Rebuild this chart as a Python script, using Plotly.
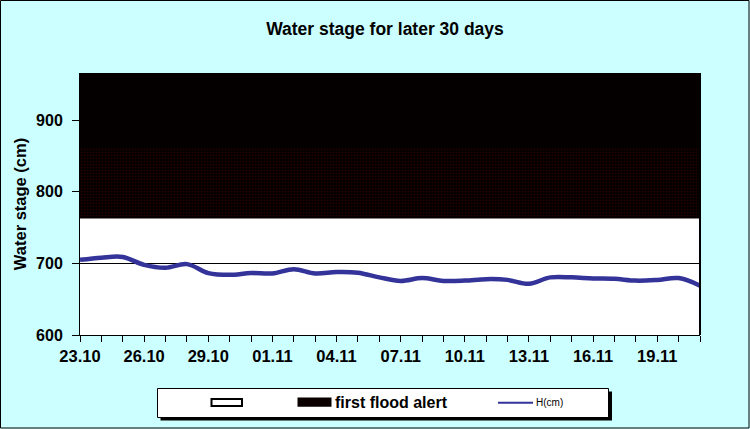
import plotly.graph_objects as go

# ---------------- data ----------------
dates = ['23.10', '24.10', '25.10', '26.10', '27.10', '28.10', '29.10', '30.10',
         '31.10', '01.11', '02.11', '03.11', '04.11', '05.11', '06.11', '07.11',
         '08.11', '09.11', '10.11', '11.11', '12.11', '13.11', '14.11', '15.11',
         '16.11', '17.11', '18.11', '19.11', '20.11', '21.11']
h_cm = [705, 708, 709, 698, 694, 699, 686.5, 684, 686.5, 686,
        692, 686, 688, 687, 680.5, 675.5, 679.5, 675.5, 676, 678,
        677, 671.5, 680.5, 680.5, 679, 678.5, 676, 677, 679.5, 669]
normal_top = 762.8      # upper edge of white (normal) zone
alert_top = 862.6       # upper edge of "first flood alert" zone
axis_top = 966          # top of the chart
y_ticks = [600, 700, 800, 900]
label_every = 3
legend_names = ['', 'first flood alert', 'H(cm)']

x = list(range(len(dates)))
x_ends = [x[0], x[-1]]

FONT = "Liberation Sans, Arial, sans-serif"
LINE_COLOR = '#333399'
ALERT_BG = '#0a0000'

fig = go.Figure()

fig.add_trace(go.Scatter(
    x=x_ends, y=[normal_top, normal_top], mode='lines', name=legend_names[0] or 'normal',
    fill='tozeroy', fillcolor='rgba(255,255,255,0)',
    line=dict(color='rgba(0,0,0,0)', width=0), hoverinfo='skip', showlegend=False))

fig.add_trace(go.Scatter(
    x=x_ends, y=[alert_top, alert_top], mode='lines', name=legend_names[1],
    fill='tonexty', fillcolor=ALERT_BG,
    fillpattern=dict(shape='.', bgcolor='#000000', fgcolor='#420000', size=3, solidity=0.4),
    line=dict(color='black', width=0), hoverinfo='skip', showlegend=False))

fig.add_trace(go.Scatter(
    x=x_ends, y=[axis_top, axis_top], mode='lines', showlegend=False, name='top',
    fill='tonexty', fillcolor='#050000',
    line=dict(color='black', width=0), hoverinfo='skip'))

fig.add_trace(go.Scatter(
    x=x, y=h_cm, mode='lines', name=legend_names[2], showlegend=False,
    line=dict(color=LINE_COLOR, width=4.5, shape='spline', smoothing=1.0)))

L, R, T, B = 80, 50, 73, 94
W, H = 750, 429
pw, ph = W - L - R, H - T - B


def xp(px):
    return (px - L) / pw


def yp(py):
    return (H - B - py) / ph


shapes = [
    # figure border
    dict(type='rect', xref='paper', yref='paper',
         x0=xp(0.5), x1=xp(W - 1), y0=yp(H - 1), y1=yp(0.5),
         line=dict(color='black', width=1), layer='above'),
    # right border of the plot area
    dict(type='line', xref='paper', yref='paper', x0=1, x1=1, y0=0, y1=1,
         line=dict(color='black', width=2), layer='above'),
    # legend shadow
    dict(type='rect', xref='paper', yref='paper',
         x0=xp(160.5), x1=xp(612), y0=yp(420.5), y1=yp(391.5),
         fillcolor='black', line=dict(width=0), layer='above'),
    # legend box
    dict(type='rect', xref='paper', yref='paper',
         x0=xp(157.5), x1=xp(608.5), y0=yp(417.5), y1=yp(388.5),
         fillcolor='white', line=dict(color='black', width=1), layer='above'),
    # legend swatch: normal zone (white)
    dict(type='rect', xref='paper', yref='paper',
         x0=xp(211.5), x1=xp(242), y0=yp(406), y1=yp(399),
         fillcolor='white', line=dict(color='black', width=2), layer='above'),
    # legend swatch: first flood alert
    dict(type='rect', xref='paper', yref='paper',
         x0=xp(297.5), x1=xp(331.5), y0=yp(406.7), y1=yp(397.5),
         fillcolor=ALERT_BG, line=dict(width=0), layer='above'),
    # legend swatch: H(cm) line
    dict(type='line', xref='paper', yref='paper',
         x0=xp(498), x1=xp(533), y0=yp(402.7), y1=yp(402.7),
         line=dict(color=LINE_COLOR, width=2), layer='above'),
]

annotations = [
    dict(text='<b>' + legend_names[1] + '</b>', xref='paper', yref='paper',
         x=xp(333), y=yp(402.3), xanchor='left', yanchor='middle', showarrow=False,
         font=dict(size=16, family=FONT, color='black')),
    dict(text=legend_names[2], xref='paper', yref='paper',
         x=xp(534), y=yp(402.7), xanchor='left', yanchor='middle', showarrow=False,
         font=dict(size=10, family=FONT, color='black')),
]

fig.update_layout(
    width=W, height=H,
    margin=dict(l=L, r=R, t=T, b=B, pad=0, autoexpand=False),
    paper_bgcolor='#CCFFFF', plot_bgcolor='white',
    font=dict(family=FONT, color='black'),
    title=dict(text='<b>Water stage for later 30 days</b>', x=385 / W, xanchor='center',
               xref='container', y=1 - 28.5 / H, yanchor='middle',
               font=dict(size=17.5, family=FONT)),
    showlegend=False,
    xaxis=dict(range=[x[0], x[-1]], tickmode='array',
               tickvals=x[::label_every], ticktext=dates[::label_every],
               ticks='outside', ticklen=6, tickcolor='black', tickwidth=1,
               minor=dict(tickmode='array', tickvals=x, ticks='outside', ticklen=6,
                          tickcolor='black', tickwidth=1),
               showgrid=False, zeroline=False, showline=True, linecolor='black', linewidth=1,
               tickfont=dict(size=16.5, family=FONT, weight='bold')),
    yaxis=dict(range=[600, axis_top], tickmode='array', tickvals=y_ticks,
               ticks='outside', ticklen=7, tickcolor='black', tickwidth=1,
               showgrid=True, gridcolor='black', gridwidth=1,
               zeroline=False, showline=True, linecolor='black', linewidth=1,
               ticklabelstandoff=6,
               tickfont=dict(size=16, family=FONT, weight='bold'),
               title=dict(text='<b>Water stage (cm)</b>', font=dict(size=16.5, family=FONT), standoff=5)),
    shapes=shapes,
    annotations=annotations,
)

fig.write_html('out.html', config={'displayModeBar': False},
               post_script="document.body.style.margin='0';document.body.style.overflow='hidden';")
